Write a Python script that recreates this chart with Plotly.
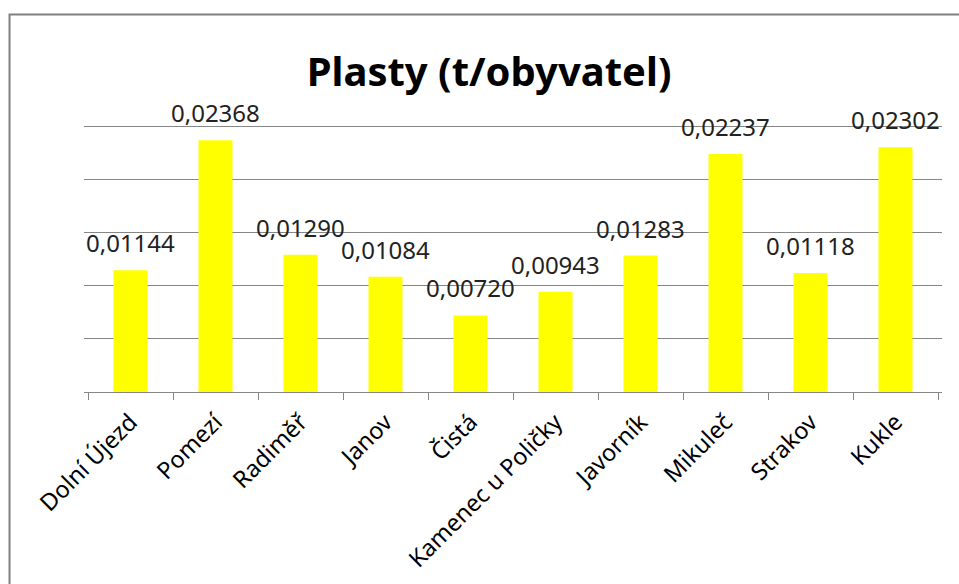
import plotly.graph_objects as go

categories = ["Dolní Újezd", "Pomezí", "Radiměř", "Janov", "Čistá",
              "Kamenec u Poličky", "Javorník", "Mikuleč", "Strakov", "Kukle"]
values = [0.01144, 0.02368, 0.01290, 0.01084, 0.00720,
          0.00943, 0.01283, 0.02237, 0.01118, 0.02302]
title_text = "Plasty (t/obyvatel)"

FONT = "Noto Sans"
GRAY = "#868686"

fig = go.Figure(go.Bar(
    x=categories, y=values,
    marker=dict(color="#ffff00", line=dict(width=0)),
    cliponaxis=False,
))

for c, v in zip(categories, values):
    fig.add_annotation(x=c, y=v, xref="x", yref="y",
                       text=f"{v:.5f}".replace(".", ","),
                       showarrow=False, yanchor="bottom", yshift=9,
                       font=dict(family=FONT, size=24, color="#222222"))

fig.update_layout(
    width=959, height=584,
    paper_bgcolor="white", plot_bgcolor="white",
    margin=dict(l=84, r=17, t=124, b=192, autoexpand=False),
    bargap=0.6,
    showlegend=False,
    title=dict(text="<b>" + title_text + "</b>", x=0.51, xanchor="center",
               y=0.877, yanchor="middle",
               font=dict(family=FONT, size=40, color="black")),
    xaxis=dict(type="category", showline=True, linecolor=GRAY, linewidth=1,
               ticks="outside", tickson="boundaries", ticklen=7, tickcolor=GRAY,
               tickangle=-45, tickfont=dict(family=FONT, size=23.5, color="black"),
               ticklabelstandoff=6,
               showgrid=False, automargin=False),
    yaxis=dict(range=[0, 0.0252], tick0=0, dtick=0.005, showticklabels=False,
               showgrid=True, gridcolor=GRAY, gridwidth=1, zeroline=False,
               showline=False, automargin=False),
    shapes=[dict(type="path", xref="paper", yref="paper",
                 path="M -0.0868,-0.8 L -0.0868,1.409 L 1.05,1.409",
                 line=dict(color="#808080", width=2))],
)

fig.write_html("out.html", config={"displayModeBar": False},
               post_script="document.body.style.margin='0';")
